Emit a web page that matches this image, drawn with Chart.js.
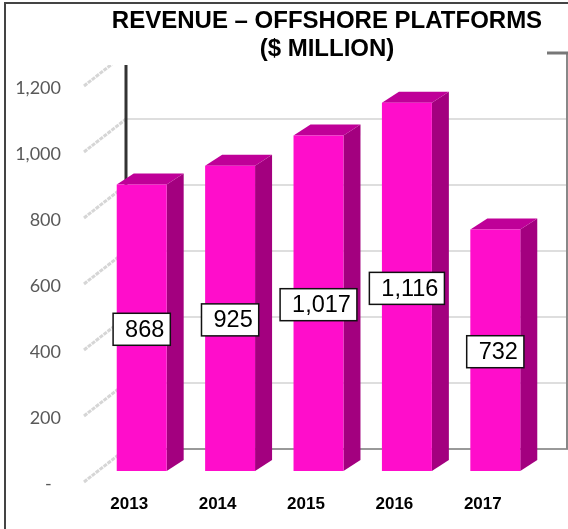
<!DOCTYPE html>
<html>
<head>
<meta charset="utf-8">
<title>Revenue - Offshore Platforms</title>
<script src="https://cdn.jsdelivr.net/npm/chart.js@4"></script>
<style>
  html, body { margin: 0; padding: 0; background: #fff; }
  canvas { display: block; }
</style>
</head>
<body>
<canvas id="chart" width="568" height="529"></canvas>
<script>
const years = ['2013', '2014', '2015', '2016', '2017'];
const revenue = [868, 925, 1017, 1116, 732];
const titleLines = ['REVENUE \u2013 OFFSHORE PLATFORMS', '($ MILLION)'];

// fake 3D: the chart area is the front floor plane, bars sit a bit further in
const barShift = { x: 12.5, y: -11 };
const barDepth = { x: 17, y: -11 };
const wall = { left: 126, right: 567, dy: -33, clipTop: 65 };

const fmt = (v) => v.toLocaleString('en-US');

const fakeThreeD = {
    id: 'fakeThreeD',
    afterLayout(chart) {
        // title is centred over the plot, not over the canvas
        chart.titleBlock.left = 86;
        chart.titleBlock.right = chart.width;
    },
    beforeDraw(chart) {
        const ctx = chart.ctx;
        ctx.save();
        ctx.fillStyle = '#fff';
        ctx.fillRect(0, 0, chart.width, chart.height);
        ctx.strokeStyle = '#444';
        ctx.lineWidth = 2;
        ctx.beginPath();
        ctx.moveTo(5, chart.height);
        ctx.lineTo(5, 3);
        ctx.lineTo(chart.width, 3);
        ctx.stroke();
        ctx.restore();
    },
    beforeDatasetsDraw(chart) {
        const ctx = chart.ctx;
        const y = chart.scales.y;
        const ticks = y.ticks.map(t => t.value);

        ctx.save();
        ctx.beginPath();
        ctx.rect(0, wall.clipTop, chart.width, chart.height);
        ctx.clip();
        ticks.forEach(v => {
            const py = y.getPixelForValue(v);
            // slanted tick on the side wall
            ctx.strokeStyle = '#d6d6d6';
            ctx.lineWidth = 3;
            ctx.setLineDash([4, 1]);
            ctx.beginPath();
            ctx.moveTo(84, py);
            ctx.lineTo(wall.left, py + wall.dy);
            ctx.stroke();
            ctx.setLineDash([]);
            // gridline on the back wall
            ctx.strokeStyle = v === 0 ? '#999' : '#dedede';
            ctx.lineWidth = 2;
            ctx.beginPath();
            ctx.moveTo(wall.left, py + wall.dy);
            ctx.lineTo(chart.width, py + wall.dy);
            ctx.stroke();
        });
        ctx.strokeStyle = '#333';
        ctx.lineWidth = 3;
        ctx.beginPath();
        ctx.moveTo(wall.left, wall.clipTop);
        ctx.lineTo(wall.left, y.getPixelForValue(0) + wall.dy);
        ctx.stroke();
        ctx.restore();

        const topY = y.getPixelForValue(y.max) + wall.dy;
        ctx.save();
        ctx.strokeStyle = '#888';
        ctx.lineWidth = 2;
        ctx.beginPath();
        ctx.moveTo(wall.right, topY);
        ctx.lineTo(wall.right, y.getPixelForValue(0) + wall.dy);
        ctx.stroke();
        ctx.strokeStyle = '#777';
        ctx.lineWidth = 3;
        ctx.beginPath();
        ctx.moveTo(547, topY);
        ctx.lineTo(chart.width, topY);
        ctx.stroke();
        ctx.restore();

        // everything the bars draw from here on is shifted, restored after
        ctx.save();
        ctx.translate(barShift.x, barShift.y);
        chart.getDatasetMeta(0).data.forEach(bar => {
            const l = bar.x - bar.width / 2;
            const r = bar.x + bar.width / 2;
            ctx.fillStyle = '#a3007f';
            ctx.beginPath();
            ctx.moveTo(r, bar.y);
            ctx.lineTo(r + barDepth.x, bar.y + barDepth.y);
            ctx.lineTo(r + barDepth.x, bar.base + barDepth.y);
            ctx.lineTo(r, bar.base);
            ctx.closePath();
            ctx.fill();
            ctx.fillStyle = '#bf0098';
            ctx.beginPath();
            ctx.moveTo(l, bar.y);
            ctx.lineTo(l + barDepth.x, bar.y + barDepth.y);
            ctx.lineTo(r + barDepth.x, bar.y + barDepth.y);
            ctx.lineTo(r, bar.y);
            ctx.closePath();
            ctx.fill();
        });
    },
    afterDatasetsDraw(chart) {
        const ctx = chart.ctx;
        ctx.restore();

        ctx.save();
        ctx.font = '23.5px "Liberation Sans"';
        ctx.textBaseline = 'middle';
        ctx.textAlign = 'center';
        chart.getDatasetMeta(0).data.forEach((bar, i) => {
            const label = fmt(revenue[i]);
            const w = ctx.measureText(label).width + 18;
            const h = 32;
            const cx = bar.x + barShift.x;
            const cy = (bar.y + bar.base) / 2 + barShift.y + 1.5;
            ctx.fillStyle = '#fff';
            ctx.fillRect(cx - w / 2, cy - h / 2, w, h);
            ctx.strokeStyle = '#111';
            ctx.lineWidth = 1.5;
            ctx.strokeRect(cx - w / 2, cy - h / 2, w, h);
            ctx.fillStyle = '#000';
            ctx.fillText(label, cx + 3, cy + 1);
        });
        ctx.restore();
    },
};

new Chart(document.getElementById('chart'), {
    type: 'bar',
    data: {
        labels: years,
        datasets: [{
            data: revenue,
            backgroundColor: '#ff0dcb',
            borderWidth: 0,
            categoryPercentage: 1,
            barPercentage: 0.565,
            clip: false,
        }],
    },
    options: {
        responsive: false,
        animation: false,
        layout: { padding: { top: 0, right: 41, bottom: 0, left: 0 } },
        plugins: {
            legend: { display: false },
            tooltip: { enabled: false },
            title: {
                display: true,
                text: titleLines,
                color: '#000',
                font: { family: '"Liberation Sans"', size: 24, weight: 'bold', lineHeight: 1.2 },
                padding: { top: 6.6, bottom: 21.8 },
            },
        },
        scales: {
            x: {
                grid: { display: false, drawTicks: false },
                border: { display: false },
                afterFit: (scale) => { scale.height = 47; },
                ticks: {
                    color: '#000',
                    padding: 12,
                    maxRotation: 0,
                    font: { family: '"Liberation Sans"', size: 17, weight: 'bold' },
                },
            },
            y: {
                min: 0,
                max: 1200,
                grid: { display: false, drawTicks: false },
                border: { display: false },
                afterFit: (scale) => { scale.width = 85; },
                ticks: {
                    stepSize: 200,
                    color: '#595959',
                    padding: 24,
                    labelOffset: 2.5,
                    font: { family: 'Lato', size: 18 },
                    callback: (v) => (v === 0 ? '-  ' : fmt(v)),
                },
            },
        },
    },
    plugins: [fakeThreeD],
});
</script>
</body>
</html>
